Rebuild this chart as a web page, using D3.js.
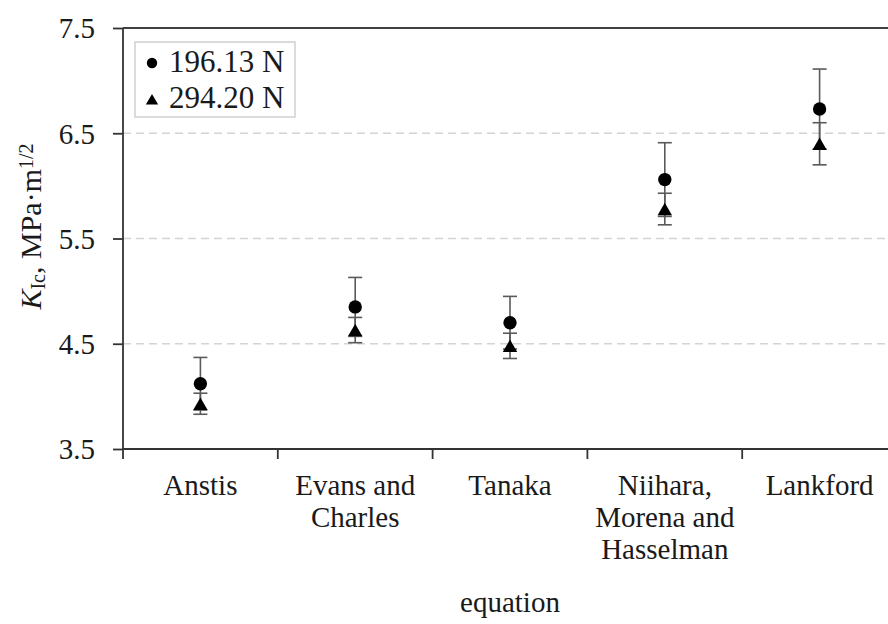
<!DOCTYPE html>
<html>
<head>
<meta charset="utf-8">
<script src="https://cdn.jsdelivr.net/npm/d3@7/dist/d3.min.js"></script>
<style>
  html, body { margin: 0; padding: 0; background: #fff; }
  svg { display: block; }
</style>
</head>
<body>
<svg id="chart" width="888" height="624"></svg>
<script>
// Fracture toughness by calculation equation, two indentation loads
const categories = ["Anstis", "Evans and Charles", "Tanaka", "Niihara, Morena and Hasselman", "Lankford"];
const categoryLines = [["Anstis"], ["Evans and", "Charles"], ["Tanaka"], ["Niihara,", "Morena and", "Hasselman"], ["Lankford"]];
const seriesNames = ["196.13 N", "294.20 N"];
const kic196 = [4.12, 4.85, 4.70, 6.06, 6.73];
const err196 = [0.25, 0.28, 0.25, 0.35, 0.38];
const kic294 = [3.93, 4.63, 4.48, 5.78, 6.40];
const err294 = [0.10, 0.12, 0.12, 0.15, 0.20];
const yTicks = [3.5, 4.5, 5.5, 6.5, 7.5];
const yTickLabels = ["3.5", "4.5", "5.5", "6.5", "7.5"];

const FONT = "'Liberation Serif', 'Times New Roman', serif";
const INK = "#1a1a1a";

const svg = d3.select("#chart");
const plotLeft = 123, plotRight = 897, plotTop = 28, plotBottom = 449;

const x = d3.scaleBand().domain(categories).range([plotLeft, plotRight]).padding(0);
const y = d3.scaleLinear().domain([3.5, 7.5]).range([plotBottom, plotTop]);

// horizontal gridlines (dashed) and top border line
svg.append("g").selectAll("line")
  .data(yTicks.filter(t => t > 3.5 && t < 7.5))
  .join("line")
  .attr("x1", plotLeft).attr("x2", 888)
  .attr("y1", d => y(d)).attr("y2", d => y(d))
  .attr("stroke", "#d4d4d4").attr("stroke-width", 1.5)
  .attr("stroke-dasharray", "8,5");

svg.append("line")
  .attr("x1", plotLeft).attr("x2", 888)
  .attr("y1", y(7.5)).attr("y2", y(7.5))
  .attr("stroke", "#404040").attr("stroke-width", 2);

// y axis
const yAxis = d3.axisLeft(y).tickValues(yTicks)
  .tickFormat((d, i) => yTickLabels[i]).tickSize(10).tickPadding(18);
const gy = svg.append("g").attr("transform", `translate(${plotLeft},0)`).call(yAxis)
  .attr("font-family", FONT).attr("font-size", 29);
gy.select(".domain").remove();
gy.selectAll(".tick line").attr("stroke", "#333").attr("stroke-width", 1.8);
gy.selectAll(".tick text").attr("fill", INK).attr("dy", "0.34em");
svg.append("line")
  .attr("x1", plotLeft).attr("x2", plotLeft)
  .attr("y1", plotTop).attr("y2", plotBottom + 10)
  .attr("stroke", "#333").attr("stroke-width", 1.8);

// x axis with ticks on category boundaries
svg.append("line")
  .attr("x1", plotLeft).attr("x2", 888)
  .attr("y1", plotBottom).attr("y2", plotBottom)
  .attr("stroke", "#333").attr("stroke-width", 1.8);
svg.append("g").selectAll("line")
  .data(categories.slice(1))
  .join("line")
  .attr("x1", d => x(d)).attr("x2", d => x(d))
  .attr("y1", plotBottom).attr("y2", plotBottom + 10)
  .attr("stroke", "#333").attr("stroke-width", 1.8);

// category labels
const lab = svg.append("g").attr("font-family", FONT).attr("font-size", 29).attr("fill", INK)
  .selectAll("text")
  .data(categories)
  .join("text")
  .attr("text-anchor", "middle")
  .attr("transform", d => `translate(${x(d) + x.bandwidth() / 2},495)`);
lab.selectAll("tspan")
  .data((d, i) => categoryLines[i])
  .join("tspan")
  .attr("x", 0)
  .attr("y", (d, i) => i * 32)
  .text(d => d);

// axis titles
svg.append("text")
  .attr("x", (plotLeft + plotRight) / 2).attr("y", 612)
  .attr("text-anchor", "middle")
  .attr("font-family", FONT).attr("font-size", 29).attr("fill", INK)
  .text("equation");

const yt = svg.append("text")
  .attr("transform", `translate(41,${(plotTop + plotBottom) / 2 - 12}) rotate(-90)`)
  .attr("text-anchor", "middle")
  .attr("font-family", FONT).attr("font-size", 30).attr("fill", INK);
yt.append("tspan").attr("font-style", "italic").text("K");
yt.append("tspan").attr("baseline-shift", "-22%").attr("font-size", 20).text("Ic");
yt.append("tspan").text(", MPa·m");
yt.append("tspan").attr("baseline-shift", "38%").attr("font-size", 20).text("1/2");

// error bars
const capW = 7;
function errorBars(vals, errs, cls) {
  const g = svg.append("g").attr("class", cls)
    .attr("stroke", "#5a5a5a").attr("stroke-width", 1.6);
  const rows = categories.map((c, i) => ({ c, v: vals[i], e: errs[i] }));
  const cx = d => x(d.c) + x.bandwidth() / 2;
  g.selectAll("line.stem").data(rows).join("line").attr("class", "stem")
    .attr("x1", cx).attr("x2", cx)
    .attr("y1", d => y(d.v + d.e)).attr("y2", d => y(d.v - d.e));
  g.selectAll("line.capHi").data(rows).join("line").attr("class", "capHi")
    .attr("x1", d => cx(d) - capW).attr("x2", d => cx(d) + capW)
    .attr("y1", d => y(d.v + d.e)).attr("y2", d => y(d.v + d.e));
  g.selectAll("line.capLo").data(rows).join("line").attr("class", "capLo")
    .attr("x1", d => cx(d) - capW).attr("x2", d => cx(d) + capW)
    .attr("y1", d => y(d.v - d.e)).attr("y2", d => y(d.v - d.e));
}
errorBars(kic294, err294, "err294");
errorBars(kic196, err196, "err196");

// markers
const circleSym = d3.symbol().type(d3.symbolCircle).size(140);
const triSym = d3.symbol().type(d3.symbolTriangle).size(90);
const triH = Math.sqrt(90 * 4 / Math.sqrt(3)) * Math.sqrt(3) / 2;

svg.append("g").selectAll("path")
  .data(categories.map((c, i) => ({ c, v: kic294[i] })))
  .join("path")
  .attr("d", triSym)
  .attr("fill", "#000")
  .attr("transform", d => `translate(${x(d.c) + x.bandwidth() / 2},${y(d.v) + triH / 6})`);

svg.append("g").selectAll("path")
  .data(categories.map((c, i) => ({ c, v: kic196[i] })))
  .join("path")
  .attr("d", circleSym)
  .attr("fill", "#000")
  .attr("transform", d => `translate(${x(d.c) + x.bandwidth() / 2},${y(d.v)})`);

// legend
const lg = svg.append("g").attr("transform", "translate(135,42)");
lg.append("rect").attr("width", 160).attr("height", 75)
  .attr("fill", "#fff").attr("stroke", "#d0d0d0").attr("stroke-width", 1.5);
lg.append("path").attr("d", d3.symbol().type(d3.symbolCircle).size(85)())
  .attr("transform", "translate(17,21)").attr("fill", "#000");
lg.append("path").attr("d", d3.symbol().type(d3.symbolTriangle).size(65)())
  .attr("transform", "translate(17,59)").attr("fill", "#000");
lg.selectAll("text.lbl").data(seriesNames).join("text").attr("class", "lbl")
  .attr("x", 34).attr("y", (d, i) => 30 + i * 36)
  .attr("font-family", FONT).attr("font-size", 31).attr("fill", INK)
  .text(d => d);
</script>
</body>
</html>
